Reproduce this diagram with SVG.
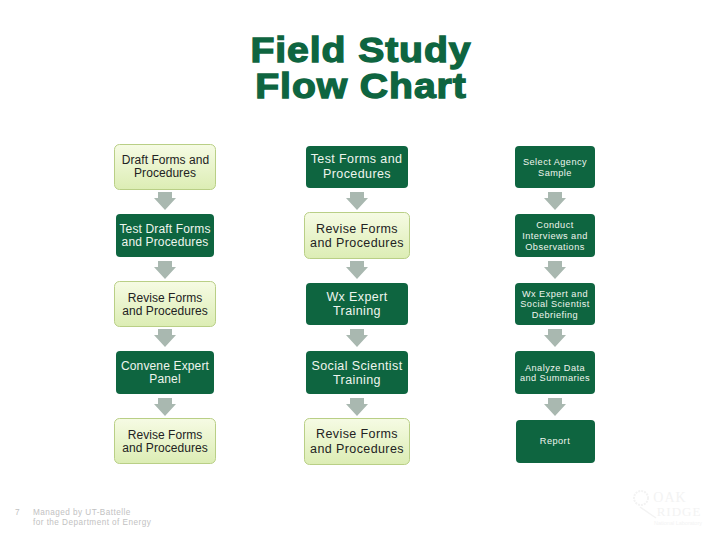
<svg xmlns="http://www.w3.org/2000/svg" width="720" height="540" viewBox="0 0 720 540">
<defs>
<linearGradient id="lg" x1="0" y1="0" x2="0" y2="1"><stop offset="0" stop-color="#f6fbe4"/><stop offset="1" stop-color="#dcedb4"/></linearGradient>
<path id="arr" d="M-7 0H7V6H11L0 18L-11 6H-7Z" fill="#a9b8b0"/>
</defs>
<style>
text{font-family:"Liberation Sans",Arial,sans-serif;text-anchor:middle}
.t{font-weight:bold;font-size:35px;fill:#0e6540;stroke:#0e6540;stroke-width:1.3;letter-spacing:.8px}
.l{fill:url(#lg);stroke:#b9cf86;stroke-width:1}
.d{fill:#0e6540}
.a{font-size:12px;fill:#222;letter-spacing:.05px}
.b{font-size:12px;fill:#eef5ee;letter-spacing:.15px}
.c{font-size:12.5px;letter-spacing:.4px}
.s{font-size:9.2px;fill:#eef5ee;letter-spacing:.45px}
.f{font-size:8.2px;fill:#c2c2c2;text-anchor:start;letter-spacing:.45px}
.o{fill:#f3f3f3}
</style>
<g id="title" transform="scale(1.12 1)"><text class="t" x="322.300" y="62">Field Study</text><text class="t" x="322.300" y="98">Flow Chart</text></g>
<g id="connectors">
<use href="#arr" x="165" y="192"/><use href="#arr" x="165" y="261"/><use href="#arr" x="165" y="329"/><use href="#arr" x="165" y="398"/>
<use href="#arr" x="357" y="192"/><use href="#arr" x="357" y="261"/><use href="#arr" x="357" y="329"/><use href="#arr" x="357" y="398"/>
<use href="#arr" x="555" y="192"/><use href="#arr" x="555" y="261"/><use href="#arr" x="555" y="329"/><use href="#arr" x="555" y="398"/>
</g>
<g id="n11"><rect class="l" x="114.500" y="144.500" width="101" height="45" rx="5"/><text class="a" x="165.500" y="164">Draft Forms and</text><text class="a" x="165" y="177">Procedures</text></g>
<g id="n12"><rect class="d" x="116" y="214" width="98" height="43" rx="4"/><text class="b" x="165" y="233">Test Draft Forms</text><text class="b" x="165" y="246">and Procedures</text></g>
<g id="n13"><rect class="l" x="114.500" y="281.500" width="101" height="45" rx="5"/><text class="a" x="165" y="302">Revise Forms</text><text class="a" x="165" y="315">and Procedures</text></g>
<g id="n14"><rect class="d" x="116" y="351" width="98" height="43" rx="4"/><text class="b" x="165" y="370">Convene Expert</text><text class="b" x="165" y="383">Panel</text></g>
<g id="n15"><rect class="l" x="114.500" y="418.500" width="101" height="45" rx="5"/><text class="a" x="165" y="439">Revise Forms</text><text class="a" x="165" y="452">and Procedures</text></g>
<g id="n21"><rect class="d" x="306" y="146" width="102" height="42" rx="4"/><text class="b c" x="356.500" y="163">Test Forms and</text><text class="b c" x="357" y="178">Procedures</text></g>
<g id="n22"><rect class="l" x="304.500" y="212.500" width="105" height="46" rx="5"/><text class="a c" x="357" y="233">Revise Forms</text><text class="a c" x="357" y="247">and Procedures</text></g>
<g id="n23"><rect class="d" x="306" y="283" width="102" height="42" rx="4"/><text class="b c" x="357" y="301">Wx Expert</text><text class="b c" x="357" y="315">Training</text></g>
<g id="n24"><rect class="d" x="306" y="351" width="102" height="43" rx="4"/><text class="b c" x="357" y="370">Social Scientist</text><text class="b c" x="357" y="384">Training</text></g>
<g id="n25"><rect class="l" x="304.500" y="418.500" width="105" height="46" rx="5"/><text class="a c" x="357" y="438">Revise Forms</text><text class="a c" x="357" y="453">and Procedures</text></g>
<g id="n31"><rect class="d" x="515" y="146" width="80" height="42" rx="4"/><text class="s" x="555" y="165">Select Agency</text><text class="s" x="555" y="176">Sample</text></g>
<g id="n32"><rect class="d" x="515" y="214" width="80" height="43" rx="4"/><text class="s" x="555" y="228">Conduct</text><text class="s" x="555" y="239">Interviews and</text><text class="s" x="555" y="250">Observations</text></g>
<g id="n33"><rect class="d" x="515" y="283" width="80" height="42" rx="4"/><text class="s" x="555" y="297">Wx Expert and</text><text class="s" x="555" y="307">Social Scientist</text><text class="s" x="555" y="318">Debriefing</text></g>
<g id="n34"><rect class="d" x="515" y="351" width="80" height="43" rx="4"/><text class="s" x="555" y="371">Analyze Data</text><text class="s" x="555" y="381">and Summaries</text></g>
<g id="n35"><rect class="d" x="516" y="420" width="79" height="43" rx="4"/><text class="s" x="555" y="444">Report</text></g>
<g id="footer">
<text class="f" x="15" y="515">7</text>
<text class="f" x="33" y="515">Managed by UT-Battelle</text>
<text class="f" x="33" y="525">for the Department of Energy</text>
</g>
<g id="logo">
<circle cx="641" cy="498" r="7" fill="none" stroke="#f3f3f3" stroke-width="2" stroke-dasharray="2 1"/>
<path d="M640 507L656 518" stroke="#f3f3f3" stroke-width="1.500" fill="none"/>
<text class="o" x="670" y="502" style="font-family:'Liberation Serif',serif;font-size:14px;letter-spacing:1px">OAK</text>
<text class="o" x="679" y="516" style="font-family:'Liberation Serif',serif;font-size:13px;letter-spacing:1px">RIDGE</text>
<text class="o" x="678" y="525" style="font-size:5.500px">National Laboratory</text>
</g>
</svg>
